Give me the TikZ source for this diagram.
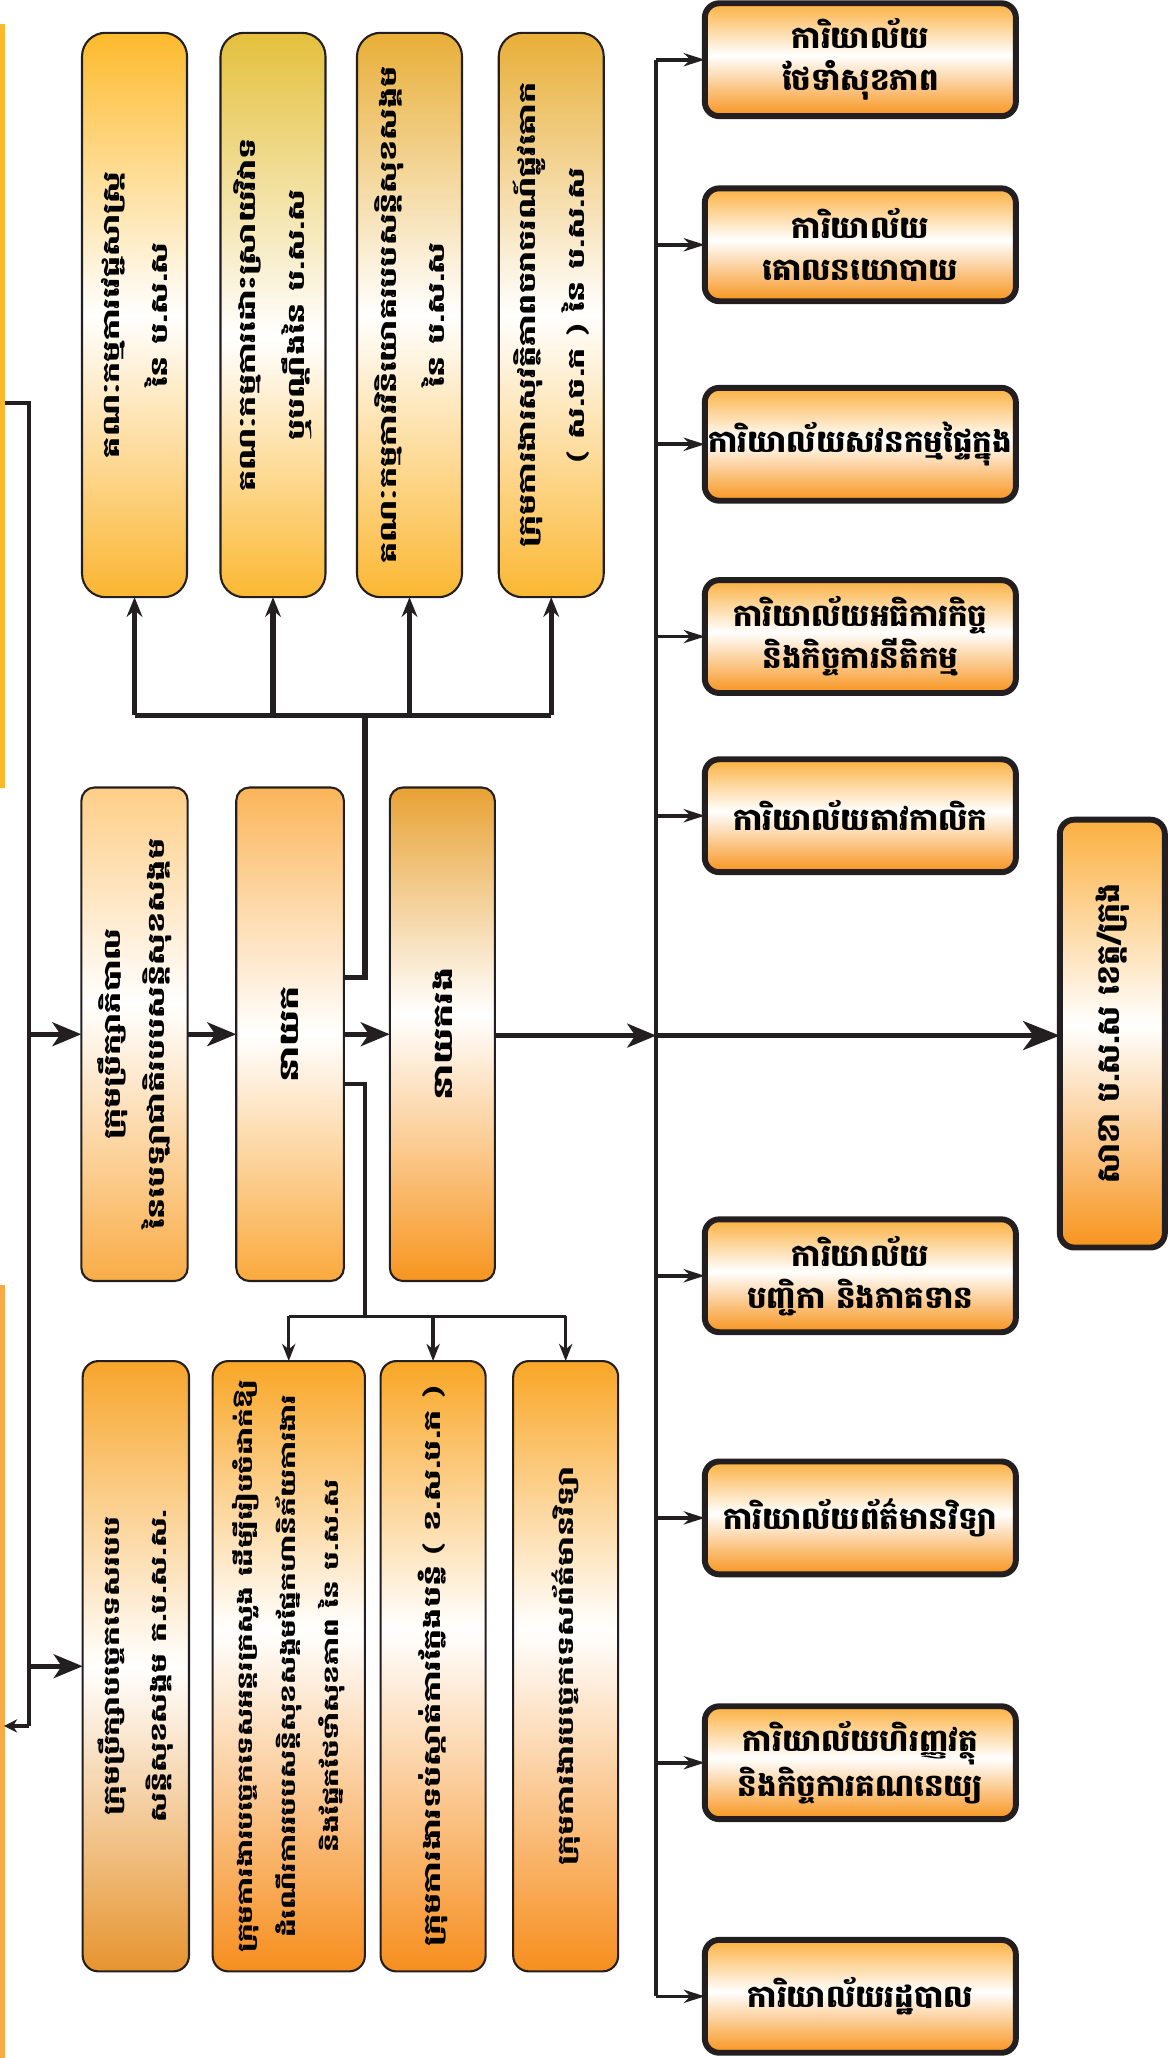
\documentclass[tikz,border=0pt]{standalone}
\usepackage{fontspec}
\newfontfamily\kh[Script=Khmer]{Battambang}
\newfontfamily\khw[Script=Khmer,FakeStretch=1.45]{Battambang}
\usetikzlibrary{arrows.meta}
\definecolor{lc}{HTML}{231F20}
\definecolor{barA}{HTML}{FDB927}
\definecolor{barB}{HTML}{F9AA45}
\definecolor{rTop}{HTML}{FBB040}
\definecolor{rBot}{HTML}{F7941D}
\definecolor{tAtop}{HTML}{FDBA2C}
\definecolor{tAbot}{HTML}{FBB531}
\definecolor{tBtop}{HTML}{E4C03C}
\definecolor{tBbot}{HTML}{FBB832}
\definecolor{tCtop}{HTML}{E8AE37}
\definecolor{tCbot}{HTML}{FBB733}
\definecolor{mAtop}{HTML}{FECE87}
\definecolor{mAbot}{HTML}{F9AC46}
\definecolor{mBtop}{HTML}{FBB55A}
\definecolor{mBbot}{HTML}{FAA93D}
\definecolor{mCtop}{HTML}{E8A234}
\definecolor{mCbot}{HTML}{F7951F}
\definecolor{bAtop}{HTML}{F7A52B}
\definecolor{bAbot}{HTML}{E6942F}
\definecolor{bBtop}{HTML}{F9A626}
\definecolor{bBbot}{HTML}{F68E1E}
\pgfdeclareverticalshading{rshade}{100bp}{color(0bp)=(rBot); color(25bp)=(rBot); color(52bp)=(white); color(75bp)=(rTop); color(100bp)=(rTop)}
\pgfdeclareverticalshading{sshade}{100bp}{color(0bp)=(rBot); color(25bp)=(rBot); color(51bp)=(white); color(75bp)=(rTop); color(100bp)=(rTop)}
\pgfdeclareverticalshading{tAshade}{100bp}{color(0bp)=(tAbot); color(25bp)=(tAbot); color(50bp)=(white); color(75bp)=(tAtop); color(100bp)=(tAtop)}
\pgfdeclareverticalshading{tBshade}{100bp}{color(0bp)=(tBbot); color(25bp)=(tBbot); color(48bp)=(white); color(75bp)=(tBtop); color(100bp)=(tBtop)}
\pgfdeclareverticalshading{tCshade}{100bp}{color(0bp)=(tCbot); color(25bp)=(tCbot); color(50bp)=(white); color(75bp)=(tCtop); color(100bp)=(tCtop)}
\pgfdeclareverticalshading{mAshade}{100bp}{color(0bp)=(mAbot); color(25bp)=(mAbot); color(53bp)=(white); color(75bp)=(mAtop); color(100bp)=(mAtop)}
\pgfdeclareverticalshading{mBshade}{100bp}{color(0bp)=(mBbot); color(25bp)=(mBbot); color(50bp)=(white); color(75bp)=(mBtop); color(100bp)=(mBtop)}
\pgfdeclareverticalshading{mCshade}{100bp}{color(0bp)=(mCbot); color(25bp)=(mCbot); color(52bp)=(white); color(75bp)=(mCtop); color(100bp)=(mCtop)}
\pgfdeclareverticalshading{bAshade}{100bp}{color(0bp)=(bAbot); color(25bp)=(bAbot); color(50bp)=(white); color(75bp)=(bAtop); color(100bp)=(bAtop)}
\pgfdeclareverticalshading{bBshade}{100bp}{color(0bp)=(bBbot); color(25bp)=(bBbot); color(53bp)=(white); color(75bp)=(bBtop); color(100bp)=(bBtop)}
\begin{document}
\begin{tikzpicture}[x=1pt,y=-1pt,
  lboxbase/.style={draw=lc, line width=1.6pt, inner sep=0pt, outer sep=0pt, shade, shading=#1},
  tbox/.style={lboxbase=#1, rounded corners=18pt, minimum width=80pt, minimum height=430pt},
  mbox/.style={lboxbase=#1, rounded corners=10pt, minimum height=376pt},
  bbox/.style={lboxbase=#1, rounded corners=12pt, minimum height=465pt},
  vtxt/.style={rotate=90, align=center, text=black, inner sep=0pt, font=\khw\bfseries\fontsize{17.5}{37}\selectfont},
  rbox/.style={draw=lc, line width=4.5pt, rounded corners=11pt, inner sep=0pt, outer sep=0pt,
     minimum width=237pt, minimum height=86pt, shade, shading=rshade, align=center,
     font=\kh\bfseries\fontsize{23.5}{32}\selectfont},
  barnode/.style={draw=none, inner sep=0pt, outer sep=0pt, minimum width=4pt},
  plainline/.style={draw=lc, line width=#1},
  bigarrow/.style={draw=lc, line width=4pt, -{Stealth[length=22pt,width=18pt,inset=6pt]}},
  hugearrow/.style={draw=lc, line width=4pt, -{Stealth[length=28pt,width=22pt,inset=8pt]}},
  uparrow/.style={draw=lc, line width=4pt, -{Stealth[length=15pt,width=12pt,inset=5pt]}},
  downarrow/.style={draw=lc, line width=2.6pt, -{Stealth[length=13pt,width=10pt,inset=4pt]}},
  rarrow/.style={draw=lc, line width=2.8pt, -{Stealth[length=16pt,width=10pt,inset=5pt]}},
  larrow/.style={draw=lc, line width=2.6pt, -{Stealth[length=10pt,width=10pt,inset=3pt]}}
]
\useasboundingbox (0,0) rectangle (890,1568);

% left bars
\node[barnode, fill=barA, minimum height=582pt] (barA) at (2,309) {};
\node[barnode, fill=barB, minimum height=590pt] (barB) at (2,1274) {};

% top boxes
\node[tbox=tAshade] (t1) at (102.5,240) {};
\node[tbox=tBshade] (t2) at (208,240) {};
\node[tbox=tCshade] (t3) at (312,240) {};
\node[tbox=tCshade] (t4) at (420,240) {};
\node[vtxt] (t1t) at (t1) {គណៈកម្មការវេជ្ជសាស្ត្រ\\នៃ ប.ស.ស};
\node[vtxt] (t2t) at (t2) {គណៈកម្មការដោះស្រាយវិវាទ\\ឬបណ្តឹងនៃ ប.ស.ស};
\node[vtxt] (t3t) at (t3) {គណៈកម្មការវិនិយោគរបបសន្តិសុខសង្គម\\នៃ ប.ស.ស};
\node[vtxt] (t4t) at (t4) {ក្រុមការងារសុវត្ថិភាពចរាចរណ៍ផ្លូវគោក\\( ស.ច.ក ) នៃ ប.ស.ស};

% middle boxes
\node[mbox=mAshade, minimum width=81pt] (m1) at (102.5,788) {};
\node[mbox=mBshade, minimum width=82pt] (m2) at (221,788) {};
\node[mbox=mCshade, minimum width=80pt] (m3) at (337,788) {};
\node[vtxt, font=\khw\bfseries\fontsize{17.5}{33}\selectfont] (m1t) at (m1) {ក្រុមប្រឹក្សាភិបាល\\នៃបេឡាជាតិរបបសន្តិសុខសង្គម};
\node[vtxt, font=\khw\bfseries\fontsize{20}{30}\selectfont] (m2t) at (m2) {នាយក};
\node[vtxt, font=\khw\bfseries\fontsize{20}{30}\selectfont] (m3t) at (m3) {នាយករង};

% bottom boxes
\node[bbox=bAshade, minimum width=81pt] (b1) at (103.5,1269.5) {};
\node[bbox=bBshade, minimum width=116pt] (b2) at (220,1269.5) {};
\node[bbox=bBshade, minimum width=80pt] (b3) at (330,1269.5) {};
\node[bbox=bBshade, minimum width=80pt] (b4) at (431,1269.5) {};
\node[vtxt, font=\khw\bfseries\fontsize{16.5}{36}\selectfont] (b1t) at (b1) {ក្រុមប្រឹក្សាបច្ចេកទេសរបប\\សន្តិសុខសង្គម ក.ប.ស.ស.};
\node[vtxt, font=\khw\bfseries\fontsize{15.5}{32.5}\selectfont] (b2t) at (b2) {ក្រុមការងារបច្ចេកទេសអន្តរក្រសួង ដើម្បីរៀបចំដាក់ឱ្យ\\ដំណើរការរបបសន្តិសុខសង្គមផ្នែកហានិភ័យការងារ\\និងផ្នែកថែទាំសុខភាព នៃ ប.ស.ស};
\node[vtxt] (b3t) at (b3) {ក្រុមការងារទប់ស្កាត់ការក្លែងបន្លំ ( ខ.ស.ប.ក )};
\node[vtxt, font=\khw\bfseries\fontsize{16.5}{36}\selectfont] (b4t) at (b4) {ក្រុមការងារបច្ចេកទេសព័ត៌មានវិទ្យា};

% right boxes
\node[rbox] (r1) at (655.5,45.5) {ការិយាល័យ\\ថែទាំសុខភាព};
\node[rbox] (r2) at (655.5,186.5) {ការិយាល័យ\\គោលនយោបាយ};
\node[rbox] (r3) at (655.5,338.5) {ការិយាល័យសវនកម្មផ្ទៃក្នុង};
\node[rbox] (r4) at (655.5,485) {ការិយាល័យអធិការកិច្ច\\និងកិច្ចការនីតិកម្ម};
\node[rbox] (r5) at (655.5,621.5) {ការិយាល័យតាវកាលិក};
\node[rbox] (r6) at (655.5,972) {ការិយាល័យ\\បញ្ជិកា និងភាគទាន};
\node[rbox] (r7) at (655.5,1156.5) {ការិយាល័យព័ត៌មានវិទ្យា};
\node[rbox] (r8) at (655.5,1343) {ការិយាល័យហិរញ្ញវត្ថុ\\និងកិច្ចការគណនេយ្យ};
\node[rbox] (r9) at (655.5,1521) {ការិយាល័យរដ្ឋបាល};

% sakha box
\node[draw=lc, line width=4.5pt, rounded corners=11pt, inner sep=0pt, outer sep=0pt,
  minimum width=80pt, minimum height=326pt, shade, shading=sshade] (sk) at (847.5,787.5) {};
\node[vtxt, font=\kh\bfseries\fontsize{24}{30}\selectfont] (skt) at (sk) {សាខា ប.ស.ស ខេត្ត/ក្រុង};

% coordinates
\coordinate (lj1) at (22,307);
\coordinate (lj2) at (22,1315);
\coordinate (lend) at (3,1315);
\coordinate (tj) at (278,545);
\coordinate (bj) at (278,1003);
\coordinate (busm) at (500,789);

% left connector
\draw[plainline=3pt] (barA.east |- lj1) -- (lj1) -- (lj2);
\draw[larrow] (lj2) -- (lend);
\draw[bigarrow] (lj1 |- m1.west) -- (m1.west);
\draw[bigarrow] (lj1 |- b1.west) -- (b1.west);

% middle chain
\draw[bigarrow] (m1.east) -- (m2.west);
\draw[bigarrow] (m2.east) -- (m3.west);
\draw[bigarrow] (m3.east |- busm) -- (busm);
\draw[hugearrow] (busm) -- (sk.west |- busm);

% top tree
\draw[plainline=4pt] (m2.east |- 0,745) -| (tj);
\draw[plainline=4pt] (t1.south |- tj) -- (t4.south |- tj);
\foreach \n in {t1,t2,t3,t4} \draw[uparrow] (\n.south |- tj) -- (\n.south);

% bottom tree
\draw[plainline=2.6pt] (m2.east |- 0,826) -| (bj);
\draw[plainline=2.6pt] (b2.north |- bj) -- (b4.north |- bj);
\foreach \n in {b2,b3,b4} \draw[downarrow] (\n.north |- bj) -- (\n.north);

% right bus
\draw[plainline=3.2pt] (r1.west -| busm) -- (r9.west -| busm);
\foreach \n in {r1,r2,r3,r4,r5,r6,r7,r8,r9} \draw[rarrow] (\n.west -| busm) -- (\n.west);
\end{tikzpicture}
\end{document}
